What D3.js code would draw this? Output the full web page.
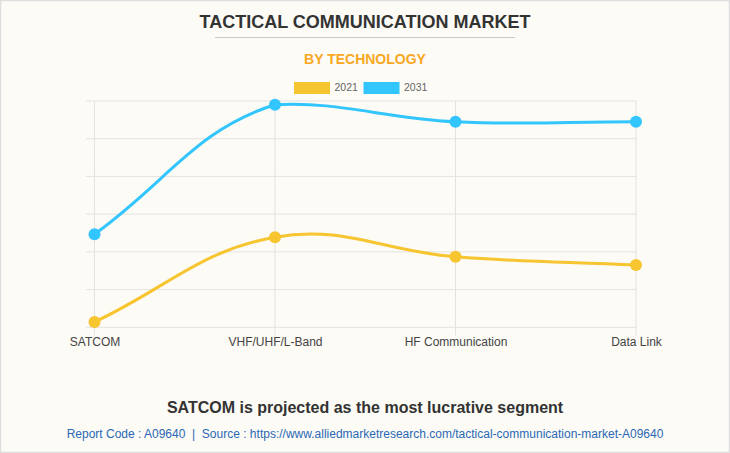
<!DOCTYPE html>
<html>
<head>
<meta charset="utf-8">
<script src="https://cdn.jsdelivr.net/npm/d3@7"></script>
<style>
  html, body { margin: 0; padding: 0; background: #fcfbf6; }
  svg { display: block; }
  text { font-family: "Liberation Sans", Arial, Helvetica, sans-serif; }
</style>
</head>
<body>
<svg id="chart" width="730" height="453"></svg>
<script>
// ---- data ----
const categories = ["SATCOM", "VHF/UHF/L-Band", "HF Communication", "Data Link"];
const seriesNames = ["2021", "2031"];
const values2021 = [0.14, 2.39, 1.87, 1.65];
const values2031 = [2.47, 5.90, 5.45, 5.45];
const yTicks = [0, 1, 2, 3, 4, 5, 6];

const colors = { "2021": "#f6c530", "2031": "#33c5fd" };
const series = [
  { name: seriesNames[0], values: values2021 },
  { name: seriesNames[1], values: values2031 }
];

(function () {
const W = 730, H = 453;
const svg = d3.select("#chart");

svg.append("rect").attr("x", 0.5).attr("y", 0.5).attr("width", W - 1).attr("height", H - 1)
  .attr("fill", "#fcfbf6").attr("stroke", "#dedede").attr("stroke-width", 1.5);

// titles
svg.append("text").attr("x", 365).attr("y", 27.7).attr("text-anchor", "middle")
  .attr("font-size", 18).attr("font-weight", "bold").attr("fill", "#333333")
  .text("TACTICAL COMMUNICATION MARKET");
svg.append("line").attr("x1", 215).attr("x2", 515).attr("y1", 37.5).attr("y2", 37.5)
  .attr("stroke", "#c8c8c8").attr("stroke-width", 1);
svg.append("text").attr("x", 365).attr("y", 64.3).attr("text-anchor", "middle")
  .attr("font-size", 14).attr("font-weight", "bold").attr("fill", "#f8a823")
  .text("BY TECHNOLOGY");

// legend
const legendX = [294, 363.5];
series.forEach((s, i) => {
  const g = svg.append("g").attr("transform", `translate(${legendX[i]},82)`);
  g.append("rect").attr("width", 36).attr("height", 12).attr("fill", colors[s.name]);
  g.append("text").attr("x", 40.5).attr("y", 9).attr("font-size", 10.5).attr("fill", "#666").text(s.name);
});

// scales
const plotTop = 101, plotBottom = 327.3, plotLeft = 94.5, plotRight = 636;
const x = d3.scalePoint().domain(categories).range([plotLeft, plotRight]);
const y = d3.scaleLinear().domain([0, 6]).range([plotBottom, plotTop]);

// grid
const gridColor = "#e4e3df";
const grid = svg.append("g");
grid.selectAll("line.h").data(yTicks).join("line")
  .attr("x1", plotLeft - 8.5).attr("x2", plotRight).attr("y1", d => y(d)).attr("y2", d => y(d))
  .attr("stroke", gridColor).attr("stroke-width", 1);
grid.selectAll("line.v").data(categories).join("line")
  .attr("x1", d => x(d)).attr("x2", d => x(d)).attr("y1", plotTop).attr("y2", plotBottom + 8)
  .attr("stroke", gridColor).attr("stroke-width", 1);

// x axis labels
const xAxis = d3.axisBottom(x).tickSize(0).tickPadding(0);
const xg = svg.append("g").attr("transform", `translate(0,${plotBottom})`).call(xAxis);
xg.select(".domain").remove();
xg.selectAll("text").attr("font-size", 12).attr("fill", "#444").attr("dy", 0).attr("y", 18.7)
  .attr("font-family", "'Liberation Sans', Arial, Helvetica, sans-serif");

// Chart.js-like spline curve (tension 0.4, control points capped to chart area)
function chartjsCurve(context) {
  let pts = [];
  const t = 0.4;
  return {
    areaStart() {}, areaEnd() {},
    lineStart() { pts = []; },
    point(px, py) { pts.push([px, py]); },
    lineEnd() {
      const n = pts.length;
      if (!n) return;
      const cap = v => Math.max(plotTop, Math.min(plotBottom, v));
      const cps = pts.map((p, i) => {
        const prev = pts[Math.max(i - 1, 0)];
        const next = pts[Math.min(i + 1, n - 1)];
        const d01 = Math.hypot(p[0] - prev[0], p[1] - prev[1]);
        const d12 = Math.hypot(next[0] - p[0], next[1] - p[1]);
        let s01 = d01 / (d01 + d12), s12 = d12 / (d01 + d12);
        if (isNaN(s01)) s01 = 0;
        if (isNaN(s12)) s12 = 0;
        const fa = t * s01, fb = t * s12;
        return {
          px: p[0] - fa * (next[0] - prev[0]), py: cap(p[1] - fa * (next[1] - prev[1])),
          nx: p[0] + fb * (next[0] - prev[0]), ny: cap(p[1] + fb * (next[1] - prev[1]))
        };
      });
      context.moveTo(pts[0][0], pts[0][1]);
      for (let i = 1; i < n; i++) {
        context.bezierCurveTo(cps[i - 1].nx, cps[i - 1].ny, cps[i].px, cps[i].py, pts[i][0], pts[i][1]);
      }
    }
  };
}

const line = d3.line()
  .x((d, i) => x(categories[i]))
  .y(d => y(d))
  .curve(chartjsCurve);

series.forEach(s => {
  svg.append("path").datum(s.values).attr("d", line)
    .attr("fill", "none").attr("stroke", colors[s.name]).attr("stroke-width", 3);
});
series.forEach(s => {
  svg.append("g").selectAll("circle").data(s.values).join("circle")
    .attr("cx", (d, i) => x(categories[i])).attr("cy", d => y(d)).attr("r", 6)
    .attr("fill", colors[s.name]);
});

// footer
svg.append("text").attr("x", 365).attr("y", 412.7).attr("text-anchor", "middle")
  .attr("font-size", 16).attr("font-weight", "bold").attr("fill", "#333")
  .text("SATCOM is projected as the most lucrative segment");
svg.append("text").attr("x", 365).attr("y", 438.3).attr("text-anchor", "middle")
  .attr("font-size", 12).attr("fill", "#2b68b5").style("white-space", "pre")
  .text("Report Code : A09640  |  Source : https://www.alliedmarketresearch.com/tactical-communication-market-A09640");
})();
</script>
</body>
</html>
